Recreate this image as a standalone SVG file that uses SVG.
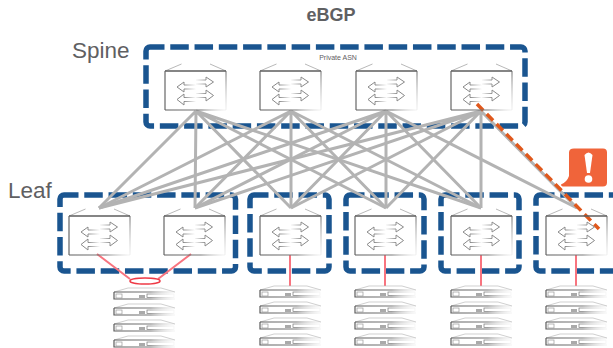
<svg xmlns="http://www.w3.org/2000/svg" xmlns:xlink="http://www.w3.org/1999/xlink" width="613" height="348" viewBox="0 0 613 348">
<style>
.lbl{font-family:"Liberation Sans",Arial,sans-serif;fill:#5f6062}
.box{fill:none;stroke:#1a5590;stroke-width:5.5;stroke-dasharray:18.500 5.770;stroke-dashoffset:4}
.link{stroke:#b3b3b3;stroke-width:3;fill:none}
.red{stroke:#f8747f;stroke-width:2;fill:none}
</style>
<defs>
<linearGradient id="fade" gradientUnits="userSpaceOnUse" x1="0" y1="0" x2="61" y2="0"><stop offset="0" stop-color="#5c5c5c"/><stop offset=".6" stop-color="#777"/><stop offset="1" stop-color="#ccc" stop-opacity=".2"/></linearGradient>
<linearGradient id="fadeV" gradientUnits="userSpaceOnUse" x1="0" y1="7" x2="0" y2="46"><stop offset="0" stop-color="#666"/><stop offset="1" stop-color="#ccc" stop-opacity=".3"/></linearGradient>
<linearGradient id="arR" gradientUnits="userSpaceOnUse" x1="30" y1="0" x2="42" y2="0"><stop offset="0" stop-color="#888" stop-opacity="0"/><stop offset="1" stop-color="#888"/></linearGradient>
<linearGradient id="arL" gradientUnits="userSpaceOnUse" x1="31" y1="0" x2="19" y2="0"><stop offset="0" stop-color="#888" stop-opacity="0"/><stop offset="1" stop-color="#888"/></linearGradient>
<g id="sw">
<path d="M0 7L16.500 0M61 7L45 0" fill="none" stroke="#999" stroke-width=".7"/>
<path d="M0 7H61" stroke="#5c5c5c" stroke-width="1.300" fill="none"/>
<path d="M0 7V46" stroke="#666" stroke-width="1.200" fill="none"/>
<path d="M61 7V46" stroke="url(#fadeV)" stroke-width="1" fill="none"/>
<path d="M0 46H61" stroke="url(#fade)" stroke-width="1.200" fill="none"/>
<g fill="none" stroke-width="1">
<path stroke="url(#arR)" d="M31 16H41V13L48.500 18L41 23V20H31"/>
<path stroke="url(#arL)" d="M31 21H19V18L12 23L19 28V25H31"/>
<path stroke="url(#arR)" d="M31 29.500H41V26L48.500 31.500L41 37V33.500H31"/>
<path stroke="url(#arL)" d="M31 33.500H19V30L12 35.500L19 41V37.500H31"/>
</g>
</g>
<g id="srv">
<path d="M0 5L14 1H47L61 5" fill="none" stroke="#bbb" stroke-width=".7"/>
<path d="M0 5H61" stroke="url(#fade)" stroke-width="1.200" fill="none"/>
<path d="M0 5V12H61" fill="none" stroke="url(#fade)" stroke-width="1.200"/>
<rect x="2" y="7" width="6" height="4" fill="none" stroke="#999" stroke-width=".7"/>
<rect x="25" y="8" width="6" height="3" fill="#aaa"/>
<rect x="33" y="7" width="27" height="3.500" fill="none" stroke="url(#fade)" stroke-width=".7"/>
</g>
<g id="stack">
<use xlink:href="#srv" href="#srv" y="0"/>
<use xlink:href="#srv" href="#srv" y="16"/>
<use xlink:href="#srv" href="#srv" y="32"/>
<use xlink:href="#srv" href="#srv" y="48"/>
</g>
</defs>
<rect width="613" height="348" fill="#fff"/>
<text class="lbl" x="331" y="21" text-anchor="middle" font-size="18" font-weight="bold">eBGP</text>
<text class="lbl" x="72" y="58" font-size="22.500">Spine</text>
<text class="lbl" x="8" y="198" font-size="22.500">Leaf</text>
<text class="lbl" x="338" y="60" text-anchor="middle" font-size="7">Private ASN</text>
<g id="containers">
<rect id="spine-box" class="box" x="146" y="47" width="379" height="79" rx="4"/>
<rect id="leaf-box-1" class="box" x="60" y="195" width="175.500" height="76" rx="4"/>
<rect id="leaf-box-2" class="box" x="250" y="195" width="79" height="76" rx="4"/>
<rect id="leaf-box-3" class="box" x="346" y="195" width="78" height="76" rx="4"/>
<rect id="leaf-box-4" class="box" x="441" y="195" width="78" height="76" rx="4"/>
<rect id="leaf-box-5" class="box" x="536" y="195" width="90" height="76" rx="4"/>
</g>
<g id="connectors">
<path class="link" d="M196 111L99 208M196 111L195 208M196 111L291 208M196 111L386 208M196 111L481 208"/>
<path class="link" d="M291 111L99 208M291 111L195 208M291 111L291 208M291 111L386 208M291 111L481 208"/>
<path class="link" d="M386 111L99 208M386 111L195 208M386 111L291 208M386 111L386 208M386 111L481 208M386 111L577 208"/>
<path class="link" d="M481 111L99 208M481 111L195 208M481 111L291 208M481 111L386 208M481 111L481 208M481 111L577 208"/>
<path class="red" d="M97 254L130 279M191 254L158 279M290 255V286M385 255V286M481 255V286M576 255V286"/>
<ellipse cx="145" cy="281" rx="15" ry="3" fill="none" stroke="#ee3a46" stroke-width="1.500"/>
<path d="M477 104L599 229" stroke="#e0581c" stroke-width="3.500" stroke-dasharray="9 5" fill="none"/>
</g>
<g id="spine-1"><use xlink:href="#sw" href="#sw" x="165" y="64"/></g>
<g id="spine-2"><use xlink:href="#sw" href="#sw" x="260" y="64"/></g>
<g id="spine-3"><use xlink:href="#sw" href="#sw" x="356" y="64"/></g>
<g id="spine-4"><use xlink:href="#sw" href="#sw" x="451" y="64"/></g>
<g id="leaf-1"><use xlink:href="#sw" href="#sw" x="69" y="209"/></g>
<g id="leaf-2"><use xlink:href="#sw" href="#sw" x="164" y="209"/></g>
<g id="leaf-3"><use xlink:href="#sw" href="#sw" x="260" y="209"/></g>
<g id="leaf-4"><use xlink:href="#sw" href="#sw" x="355" y="209"/></g>
<g id="leaf-5"><use xlink:href="#sw" href="#sw" x="451" y="209"/></g>
<g id="leaf-6"><use xlink:href="#sw" href="#sw" x="546" y="209"/></g>
<g id="servers-1"><use xlink:href="#stack" href="#stack" x="114" y="287"/></g>
<g id="servers-2"><use xlink:href="#stack" href="#stack" x="260" y="285"/></g>
<g id="servers-3"><use xlink:href="#stack" href="#stack" x="355" y="285"/></g>
<g id="servers-4"><use xlink:href="#stack" href="#stack" x="451" y="285"/></g>
<g id="servers-5"><use xlink:href="#stack" href="#stack" x="546" y="285"/></g>
<g id="alert">
<path d="M574 148.500H603Q607 148.500 607 152.500V182.500Q607 186.500 603 186.500H564Q561 186.500 561 184.500Q567 182 569 176V152.500Q569 148.500 574 148.500Z" fill="#f0643a"/>
<path d="M584.500 155Q588.500 150 592.500 155L590 173H587Z" fill="#fff"/>
<circle cx="588.500" cy="179" r="3.800" fill="#fff"/>
</g>
</svg>
